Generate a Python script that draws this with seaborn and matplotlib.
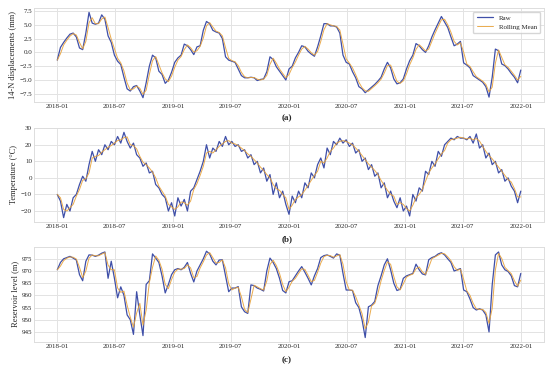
import matplotlib
matplotlib.use("Agg")
import matplotlib.pyplot as plt
import matplotlib.dates as mdates
from matplotlib.ticker import MultipleLocator
import pandas as pd
import seaborn as sns

# readings every 10 days from 2018-01-01
dates = pd.date_range("2018-01-01", periods=147, freq="10D")

displacement = [
    -1.4, 0.9, 1.8, 2.6, 3.3, 3.5, 2.8, 0.8, 0.5, 3.5,
    7.25, 5.3, 5.1, 5.3, 6.8, 6.0, 3.0, 1.8, -0.5, -1.6,
    -2.2, -4.5, -6.6, -7.0, -6.2, -6.0, -7.0, -8.2, -5.5, -2.5,
    -0.5, -1.0, -3.4, -4.0, -5.6, -5.0, -3.6, -1.8, -1.0, -0.5,
    1.5, 1.2, 0.5, -0.4, 1.0, 1.2, 4.0, 5.6, 5.2, 4.0,
    3.7, 3.5, 2.5, -0.8, -1.4, -1.6, -1.8, -3.0, -4.2, -4.6,
    -4.6, -4.5, -4.6, -5.1, -4.9, -4.8, -3.5, -0.8, -1.3, -2.6,
    -3.4, -4.2, -5.0, -3.0, -2.5, -1.0, 0.0, 1.2, 1.0, 0.2,
    -0.3, -0.7, 1.0, 3.0, 5.2, 5.2, 4.8, 4.8, 4.6, 3.5,
    -0.5, -1.8, -2.1, -3.5, -4.6, -6.2, -6.6, -7.3, -6.8, -6.3,
    -5.8, -5.2, -4.5, -3.0, -1.8, -2.8, -4.8, -5.7, -5.5, -4.8,
    -3.0, -1.5, -0.5, 1.6, 1.2, 0.5, 0.0, 1.2, 2.8, 4.1,
    5.3, 6.5, 5.5, 4.5, 2.8, 1.2, 1.5, 2.0, -1.9, -2.3,
    -2.8, -4.2, -4.6, -5.0, -5.4, -6.2, -8.1, -4.5, 0.6, 0.3,
    -2.1, -2.4, -3.0, -3.8, -4.5, -5.5, -3.2,
]

temperature = [
    -10, -14, -24, -16, -20, -12, -10, -4, 1, -2,
    8, 16, 10, 17, 14, 20, 17, 22, 20, 25,
    21, 27.5, 22, 18, 21, 14, 12, 7, 9, 3,
    4, -4, -6, -10, -12, -20, -15, -23, -12, -17,
    -13, -20, -8, -6, -1, 4, 10, 20, 12, 18,
    16, 22, 19, 25, 20, 22, 19, 20, 16, 17,
    12, 14, 8, 10, 3, 6, -2, 2, -10, -3,
    -12, -8, -16, -22, -11, -15, -8, -12, -3, -6,
    3, 0, 8, 12, 6, 18, 14, 22, 20, 24,
    21, 23, 19, 21, 15, 17, 10, 12, 5, 8,
    1, 3, -6, -3, -12, -8, -14, -18, -12, -20,
    -17, -23, -10, -14, -6, -8, 4, 2, 10, 7,
    16, 13, 20, 22, 24, 23, 25, 24, 24, 23,
    25, 21, 26.5, 18, 20, 12, 15, 8, 10, 3,
    5, -2, 0, -5, -8, -15, -8,
]

reservoir = [
    970.5, 973.5, 975.0, 975.5, 976.0, 975.3, 974.5, 968.5, 966.0, 974.0,
    976.6, 976.5, 976.0, 976.5, 977.3, 977.8, 967.0, 974.0, 967.0, 959.0,
    963.5, 960.0, 952.0, 950.0, 944.0, 961.5, 952.0, 943.5, 964.5, 966.0,
    977.0, 975.3, 973.5, 968.0, 961.0, 964.5, 968.5, 970.5, 971.0, 970.5,
    971.5, 973.5, 969.0, 965.5, 970.0, 972.5, 975.0, 978.1, 977.0, 974.0,
    972.5, 974.5, 974.6, 968.0, 961.5, 963.0, 963.0, 963.6, 955.3, 953.3,
    952.6, 964.3, 964.0, 963.0, 962.5, 961.8, 970.0, 975.3, 973.5, 971.0,
    967.0, 962.0, 961.0, 965.6, 966.0, 968.0, 970.0, 971.8, 969.5, 967.0,
    964.3, 968.0, 971.0, 975.5, 976.3, 976.6, 976.0, 975.3, 977.0, 976.5,
    969.0, 962.2, 962.2, 962.0, 957.0, 955.0, 950.0, 942.7, 955.3, 956.0,
    957.5, 964.0, 968.0, 972.5, 975.0, 970.5, 965.0, 962.0, 962.5, 967.0,
    968.0, 968.5, 969.0, 972.8, 970.5, 968.8, 968.4, 974.6, 975.5, 976.0,
    977.0, 977.5, 976.6, 975.0, 973.5, 970.0, 970.5, 971.0, 962.2, 961.5,
    958.5, 955.0, 954.0, 954.5, 954.0, 952.0, 945.0, 964.3, 976.6, 977.8,
    972.5, 970.5, 969.8, 968.0, 964.0, 963.5, 969.0,
]

ylabels = ["14-N displacements (mm)", "Temperature (\u00b0C)", "Reservoir level (m)"]
panel_tags = ["(a)", "(b)", "(c)"]
ytick_steps = [2.5, 10, 5]

raw_color = "#3f4fa8"
mean_color = "#e8a23a"

sns.set_theme(style="whitegrid")
plt.rcParams["font.family"] = ["Liberation Serif", "DejaVu Serif"]

df = pd.DataFrame({
    "date": dates,
    "displacement": displacement,
    "temperature": temperature,
    "reservoir": reservoir,
})

fig = plt.figure(figsize=(5.5, 3.68), dpi=100)
boxes = [
    (0.062, 0.723, 0.927, 0.255),
    (0.062, 0.397, 0.927, 0.255),
    (0.062, 0.071, 0.927, 0.258),
]
tag_y = [0.679, 0.351, 0.022]

for col, box, ylab, tag, ty, step in zip(
    ["displacement", "temperature", "reservoir"], boxes, ylabels, panel_tags, tag_y, ytick_steps
):
    ax = fig.add_axes(box)
    sub = df[["date", col]].copy()
    sub["Rolling Mean"] = sub[col].rolling(2, min_periods=1).mean()
    sns.lineplot(data=sub, x="date", y=col, ax=ax, color=raw_color,
                 linewidth=0.9, label="Raw")
    sns.lineplot(data=sub, x="date", y="Rolling Mean", ax=ax, color=mean_color,
                 linewidth=0.7, alpha=0.9, label="Rolling Mean")
    ax.set_xlabel("")
    ax.set_ylabel(ylab, fontsize=6, labelpad=2)
    ax.tick_params(axis="both", labelsize=5, pad=1.5, length=0)
    ax.xaxis.set_major_locator(mdates.MonthLocator(bymonth=[1, 7]))
    ax.xaxis.set_major_formatter(mdates.DateFormatter("%Y-%m"))
    ax.yaxis.set_major_locator(MultipleLocator(step))
    ax.grid(True, color="#e3e3e3", linewidth=0.7)
    for s in ax.spines.values():
        s.set_color("#dddddd")
        s.set_linewidth(0.7)
    if col == "displacement":
        ax.legend(loc="upper right", fontsize=5, frameon=True,
                  handlelength=2.4, borderpad=0.5, labelspacing=0.4)
    else:
        ax.get_legend().remove()
    fig.text(0.522, ty, tag, fontsize=6.5, fontweight="bold", ha="center", va="center")

fig.savefig("out.png", dpi=100)
